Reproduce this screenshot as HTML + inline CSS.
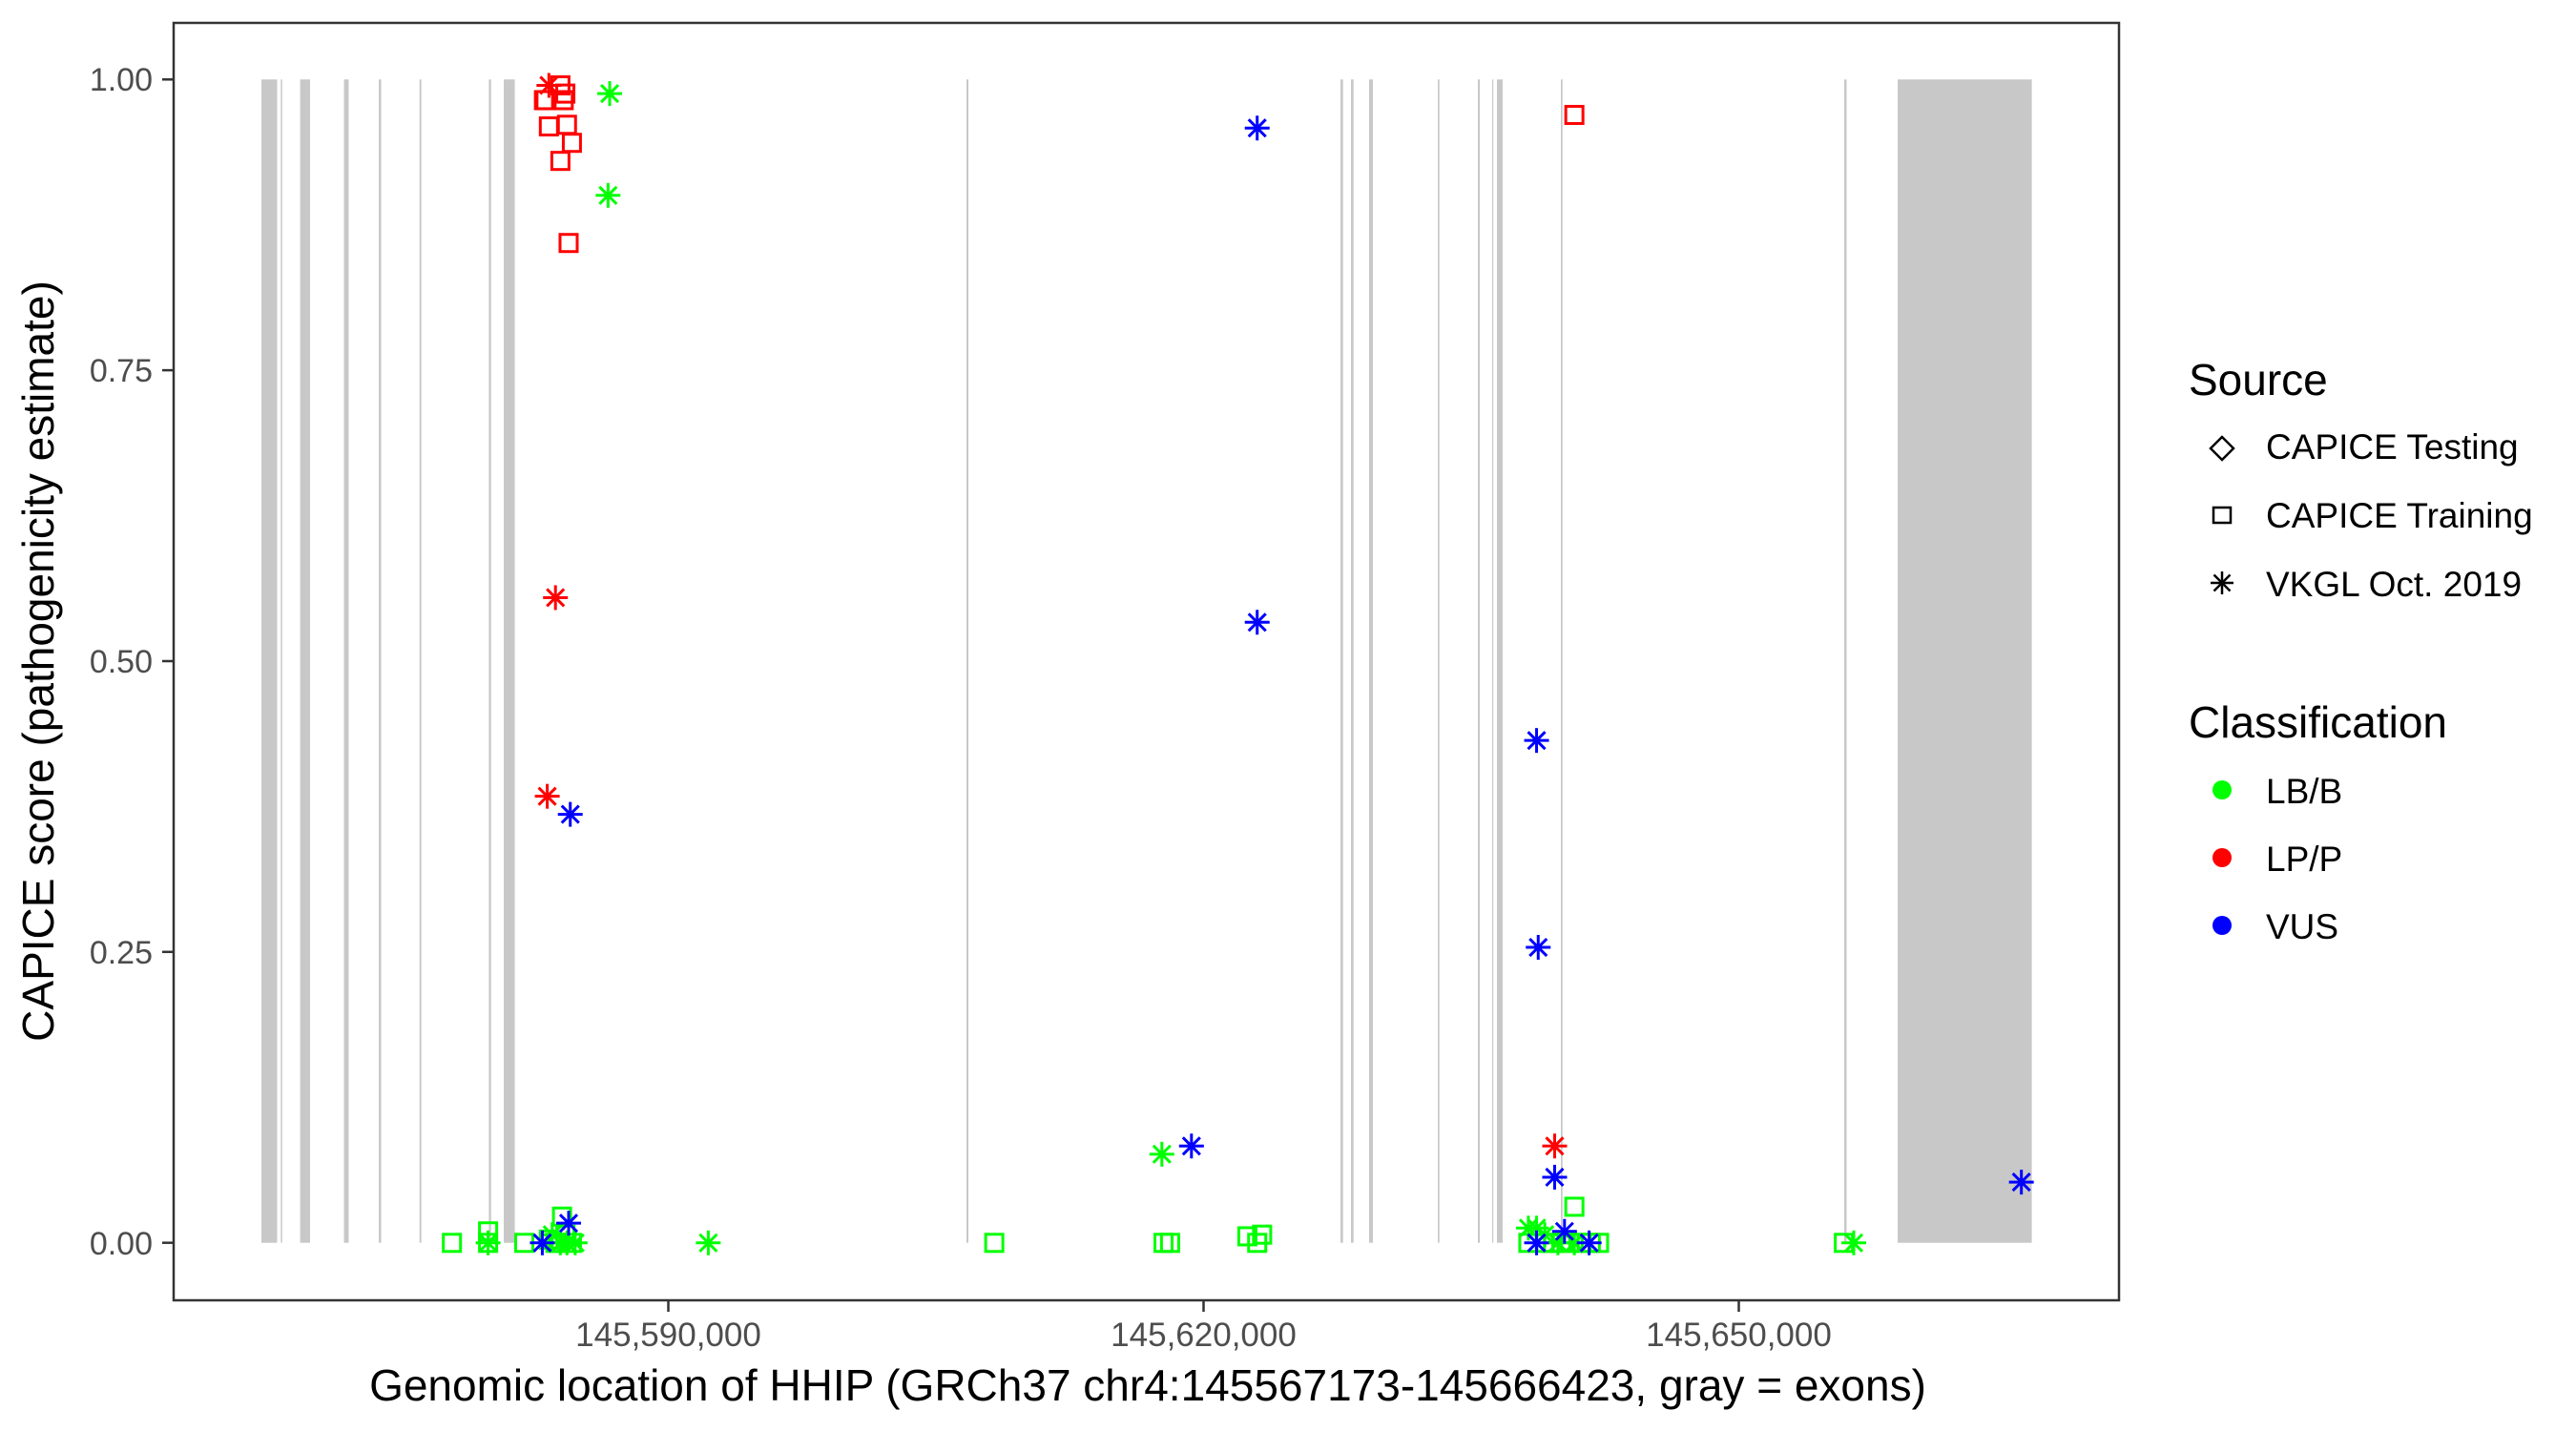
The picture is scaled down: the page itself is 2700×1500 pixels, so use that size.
<!DOCTYPE html>
<html><head><meta charset="utf-8"><style>
html,body{margin:0;padding:0;background:#fff;}
svg{display:block;font-family:"Liberation Sans",Arial,sans-serif;}
</style></head><body>
<svg id="s" width="2700" height="1500" viewBox="0 0 2700 1500" xmlns="http://www.w3.org/2000/svg">
<rect width="2700" height="1500" fill="#fff"/>
<g id="exons" fill="#c8c8c8"></g>
<g id="pts" fill="none" stroke-width="3"></g>
<rect x="182" y="24" width="2039" height="1339" fill="none" stroke="#333" stroke-width="2.5"/>
<g stroke="#333" stroke-width="2.5">
<line x1="170" y1="83.3" x2="182" y2="83.3"/><line x1="170" y1="388.1" x2="182" y2="388.1"/>
<line x1="170" y1="693" x2="182" y2="693"/><line x1="170" y1="997.8" x2="182" y2="997.8"/>
<line x1="170" y1="1302.7" x2="182" y2="1302.7"/>
<line x1="700.5" y1="1363" x2="700.5" y2="1375"/><line x1="1261.5" y1="1363" x2="1261.5" y2="1375"/>
<line x1="1822.5" y1="1363" x2="1822.5" y2="1375"/>
</g>
<g fill="#4d4d4d" font-size="34" text-anchor="end">
<text x="160" y="95">1.00</text><text x="160" y="400">0.75</text><text x="160" y="705">0.50</text>
<text x="160" y="1010">0.25</text><text x="160" y="1315">0.00</text>
</g>
<g fill="#4d4d4d" font-size="35" text-anchor="middle">
<text x="700.5" y="1411">145,590,000</text><text x="1261.5" y="1411">145,620,000</text><text x="1822.5" y="1411">145,650,000</text>
</g>
<text x="1203" y="1468" font-size="46" text-anchor="middle" fill="#000">Genomic location of HHIP (GRCh37 chr4:145567173-145666423, gray = exons)</text>
<text transform="translate(56,693) rotate(-90)" font-size="46" text-anchor="middle" fill="#000">CAPICE score (pathogenicity estimate)</text>
<g font-size="46" fill="#000"><text x="2294" y="414">Source</text><text x="2294" y="773">Classification</text></g>
<g font-size="37" fill="#000">
<text x="2375" y="481">CAPICE Testing</text><text x="2375" y="553">CAPICE Training</text><text x="2375" y="625">VKGL Oct. 2019</text>
<text x="2375" y="842">LB/B</text><text x="2375" y="913">LP/P</text><text x="2375" y="984">VUS</text>
</g>
<g stroke="#000" stroke-width="2.5" fill="none">
<polygon points="2329,458 2341,470 2329,482 2317,470"/>
<rect x="2320" y="532" width="18" height="16"/>
<g transform="translate(2329,611)"><line x1="-12" y1="0" x2="12" y2="0"/><line x1="0" y1="-12" x2="0" y2="12"/><line x1="-8.5" y1="-8.5" x2="8.5" y2="8.5"/><line x1="-8.5" y1="8.5" x2="8.5" y2="-8.5"/></g>
</g>
<circle cx="2329" cy="828" r="10" fill="#00ff00"/><circle cx="2329" cy="899" r="10" fill="#ff0000"/><circle cx="2329" cy="970" r="10" fill="#0000ff"/>
</svg>
<script>
var NS="http://www.w3.org/2000/svg";
var ex=[[274,290.5],[294.3,295.8],[314.6,325],[360.5,365.5],[397,399.5],[439.7,441.6],[512.4,514.7],[528,539.6],[1013,1015],[1405,1407.7],[1416,1418.7],[1435,1439],[1507,1508.7],[1549,1551],[1564,1565.2],[1569,1575],[1636,1637.7],[1933,1935.5],[1989,2129.6]];
var g=document.getElementById("exons");
ex.forEach(function(e){var r=document.createElementNS(NS,"rect");r.setAttribute("x",e[0]);r.setAttribute("y",83.3);r.setAttribute("width",e[1]-e[0]);r.setAttribute("height",1219.4);g.appendChild(r);});
var P=document.getElementById("pts");
function X(d){return 1.7225*d;} function Y(d){return 1.721*d;}
function sq(d,e,c){var r=document.createElementNS(NS,"rect");r.setAttribute("x",X(d)-9);r.setAttribute("y",Y(e)-9);r.setAttribute("width",18);r.setAttribute("height",18);r.setAttribute("stroke",c);P.appendChild(r);}
function st(d,e,c){var x=X(d),y=Y(e),L=[[-13,0,13,0],[0,-13,0,13],[-9,-9,9,9],[-9,9,9,-9]];L.forEach(function(l){var n=document.createElementNS(NS,"line");n.setAttribute("x1",x+l[0]);n.setAttribute("y1",y+l[1]);n.setAttribute("x2",x+l[2]);n.setAttribute("y2",y+l[3]);n.setAttribute("stroke",c);P.appendChild(n);});}
var G="#00ff00",R="#ff0000",B="#0000ff";
[[275,757],[297,750],[297,757],[319,757],[342,741],[334,755],[338,757],[344,752],[348,757],[340,757],[605,757],[708,757],[712,757],[759,753],[768,752],[765,757],[958,735],[930,757],[940,757],[945,757],[950,757],[955,757],[962,757],[968,757],[973,757],[1122,757]].forEach(function(p){sq(p[0],p[1],G);});
[[371,57],[370,119],[431,757],[707,703],[1128,757],[297,757],[935,748],[930,748],[940,752],[336,752],[341,757],[345,757],[350,757],[948,757],[958,757]].forEach(function(p){st(p[0],p[1],G);});
[[332,61],[341,52],[344,57],[343,61],[331,61],[334,77],[345,76],[348,87],[341,98],[346,148],[958,70]].forEach(function(p){sq(p[0],p[1],R);});
[[334,52],[338,364],[333,485],[946,698]].forEach(function(p){st(p[0],p[1],R);});
[[765,78],[765,379],[347,496],[725,698],[935,451],[936,577],[946,717],[1230,720],[346,745],[330,757],[935,757],[967,757],[952,750]].forEach(function(p){st(p[0],p[1],B);});
</script>
</body></html>
